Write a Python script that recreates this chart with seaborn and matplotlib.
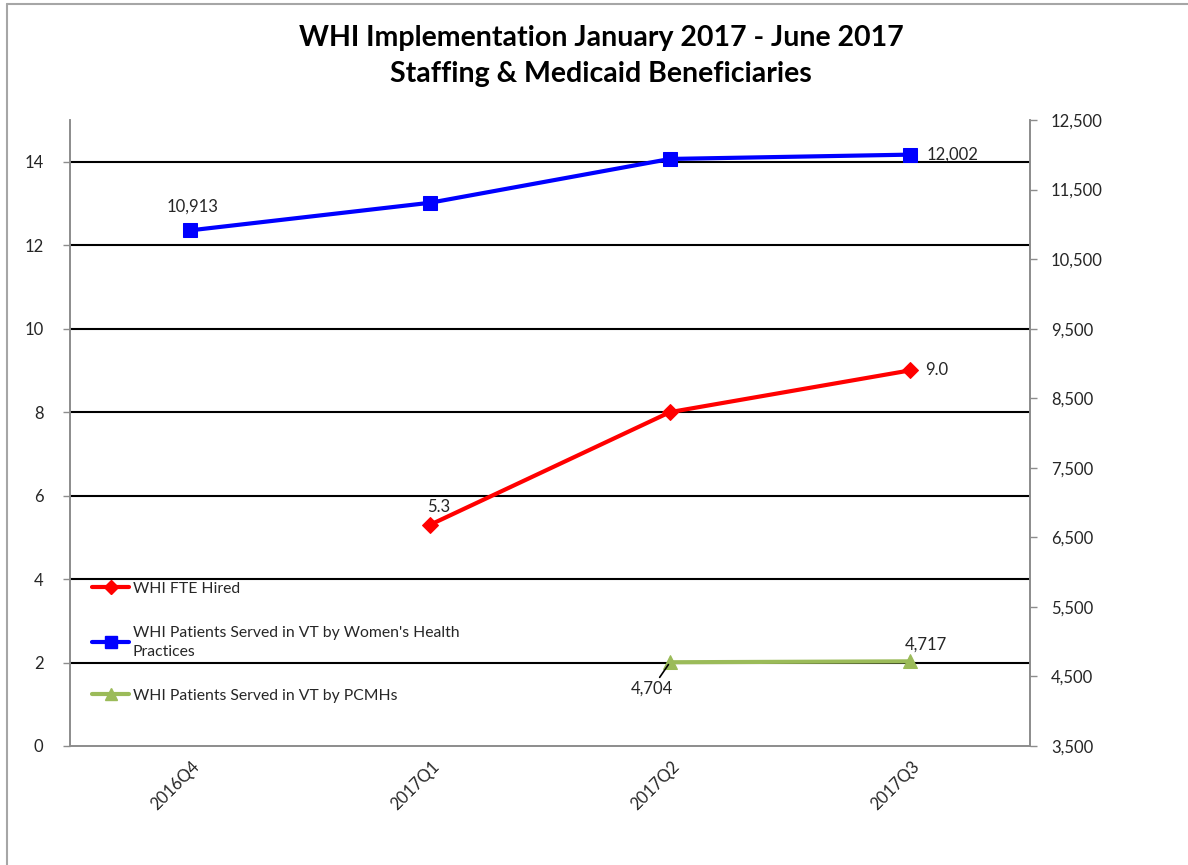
import numpy as np
import pandas as pd
import matplotlib
matplotlib.use("Agg")
import matplotlib.pyplot as plt
import matplotlib.transforms as mtransforms
import seaborn as sns
from matplotlib.lines import Line2D

quarters = ["2016Q4", "2017Q1", "2017Q2", "2017Q3"]
fte_hired = [np.nan, 5.3, 8.0, 9.0]
patients_whp = [10913, 11310, 11940, 12002]
patients_pcmh = [np.nan, np.nan, 4704, 4717]

left_ticks = [0, 2, 4, 6, 8, 10, 12, 14]
right_ticks = [3500, 4500, 5500, 6500, 7500, 8500, 9500, 10500, 11500, 12500]

label_fte = "WHI FTE Hired"
label_whp = "WHI Patients Served in VT by Women's Health\nPractices"
label_pcmh = "WHI Patients Served in VT by PCMHs"
title = "WHI Implementation January 2017 - June 2017\nStaffing & Medicaid Beneficiaries"

sns.set_style("white")
plt.rcParams["font.family"] = ["Lato", "DejaVu Sans"]

df = pd.DataFrame({
    "pos": np.arange(len(quarters)),
    "fte": fte_hired,
    "whp": patients_whp,
    "pcmh": patients_pcmh,
})

RED = "#FF0000"
BLUE = "#0000FF"
GREEN = "#9BBB59"
SPINE = "#8C8C8C"
TXT = "#262626"
FS = 12

fig = plt.figure(figsize=(11.88, 8.65), dpi=100)
ax = fig.add_axes([70 / 1188, 1 - 746 / 865, 960 / 1188, 626 / 865])
ax2 = ax.twinx()

sns.lineplot(data=df.dropna(subset=["fte"]), x="pos", y="fte", ax=ax, color=RED,
             linewidth=3, marker="D", markersize=8, markeredgecolor=RED, label=label_fte, legend=False)
sns.lineplot(data=df, x="pos", y="whp", ax=ax2, color=BLUE,
             linewidth=3, marker="s", markersize=10, markeredgecolor=BLUE, label=label_whp, legend=False)
sns.lineplot(data=df.dropna(subset=["pcmh"]), x="pos", y="pcmh", ax=ax2, color=GREEN,
             linewidth=3, marker="^", markersize=10, markeredgecolor=GREEN, label=label_pcmh, legend=False)

# axes limits and ticks
ax.set_xlim(-0.5, len(quarters) - 0.5)
ax.set_ylim(0, 15)
ax2.set_ylim(3500, 12500)
ax.set_yticks(left_ticks)
ax2.set_yticks(right_ticks)
ax2.set_yticklabels([f"{v:,}" for v in right_ticks])
ax.set_xticks(np.arange(len(quarters)))
ax.set_xticklabels(quarters, rotation=45, ha="right", va="center", rotation_mode="anchor")
ax.set_xticks(np.arange(len(quarters) + 1) - 0.5, minor=True)
ax.tick_params(axis="x", which="major", length=0, pad=13, labelsize=FS, labelcolor=TXT)
ax.tick_params(axis="x", which="minor", length=5, color=SPINE, width=1, direction="out")
ax.tick_params(axis="y", length=5, color=SPINE, width=1, direction="out", labelsize=FS, labelcolor=TXT, pad=14)
ax2.tick_params(axis="y", length=5, color=SPINE, width=1, direction="out", labelsize=FS, labelcolor=TXT, pad=10)
shift = mtransforms.ScaledTranslation(7 / 100, 0, fig.dpi_scale_trans)
for t in ax.get_xticklabels():
    t.set_transform(t.get_transform() + shift)
ax.set_xlabel("")
ax.set_ylabel("")
ax2.set_ylabel("")

# gridlines
for t in left_ticks[1:]:
    ax.axhline(t, color="black", linewidth=1.5, zorder=0.5)

for a in (ax, ax2):
    a.spines["top"].set_visible(False)
    for s in ("left", "right", "bottom"):
        a.spines[s].set_color(SPINE)
        a.spines[s].set_linewidth(1.2)
ax2.set_zorder(ax.get_zorder() + 1)
ax2.patch.set_visible(False)

# data labels
def lab(a, x, y, txt, dx, dy, ha="center", arrow=False):
    a.annotate(txt, xy=(x, y), xytext=(dx, dy), textcoords="offset points",
               ha=ha, va="center", fontsize=FS, color=TXT,
               arrowprops=dict(arrowstyle="-", color="black", lw=1.2, shrinkA=0, shrinkB=2) if arrow else None)

lab(ax2, 0, patients_whp[0], f"{patients_whp[0]:,}", 1.5, 17)
lab(ax2, 3, patients_whp[3], f"{patients_whp[3]:,}", 12, 0, ha="left")
lab(ax, 3, fte_hired[3], f"{fte_hired[3]:.1f}", 11, 0, ha="left")
lab(ax, 1, fte_hired[1], f"{fte_hired[1]:.1f}", 6, 13)
lab(ax2, 2, patients_pcmh[2], f"{patients_pcmh[2]:,}", -13, -19, arrow=True)
lab(ax2, 3, patients_pcmh[3], f"{patients_pcmh[3]:,}", 11.5, 12)

# legend
handles = [
    Line2D([], [], color=RED, lw=3, marker="D", markersize=7, markeredgecolor=RED),
    Line2D([], [], color=BLUE, lw=3, marker="s", markersize=9, markeredgecolor=BLUE),
    Line2D([], [], color=GREEN, lw=3, marker="^", markersize=9, markeredgecolor=GREEN),
]
leg = ax2.legend(handles, [label_fte, label_whp, label_pcmh], loc="upper left",
                 bbox_to_anchor=(0.023, 0.262), borderaxespad=0, borderpad=0,
                 frameon=False, fontsize=11.3, handlelength=2.35, handletextpad=0.25,
                 labelspacing=1.9, labelcolor=TXT)
for t in leg.get_texts():
    t.set_linespacing(1.45)

# title
fig.text(0.506, 1 - 56 / 865, title, ha="center", va="center", fontsize=20.5,
         fontweight="bold", color="black", linespacing=1.45)

# outer border (left and top)
fig.add_artist(Line2D([7 / 1188, 7 / 1188], [0, 1 - 4 / 865], transform=fig.transFigure, color="#A6A6A6", lw=1.5))
fig.add_artist(Line2D([7 / 1188, 1], [1 - 4 / 865, 1 - 4 / 865], transform=fig.transFigure, color="#A6A6A6", lw=1.5))

fig.savefig("out.png", dpi=100)
